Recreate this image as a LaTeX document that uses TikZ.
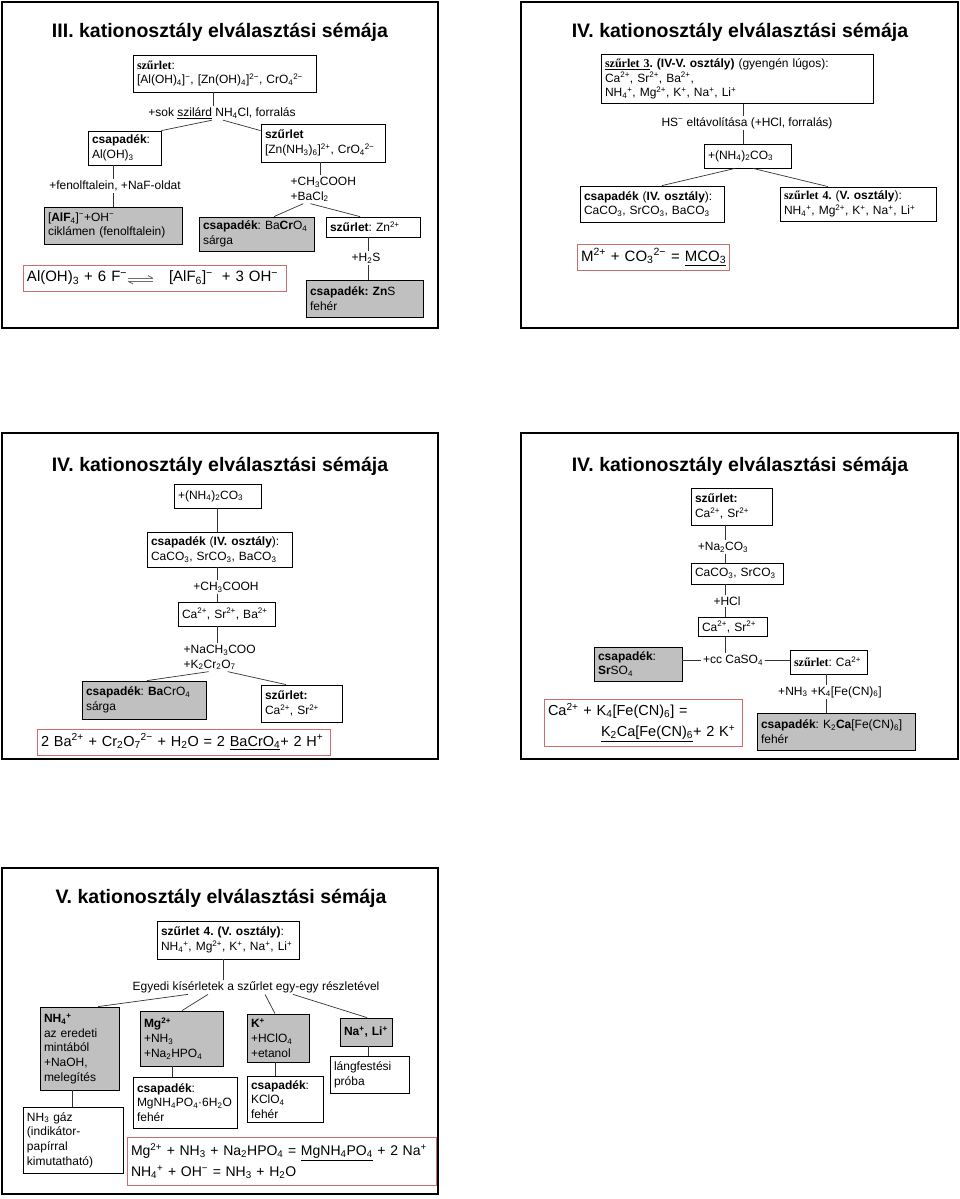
\documentclass[tikz,border=0pt]{standalone}
\usepackage{fontspec}
\setmainfont{Liberation Sans}
\newfontfamily\tms{Liberation Serif}
\hyphenpenalty=10000 \exhyphenpenalty=10000
\frenchspacing
\newcommand\lo[1]{\textsubscript{#1}}
\newcommand\hi[1]{\textsuperscript{#1}}
\newcommand\ml[1]{\mbox{#1}}
\definecolor{boxgray}{RGB}{192,192,192}
\definecolor{eqred}{RGB}{205,110,110}
\definecolor{arrgray}{RGB}{110,110,110}
\newcommand\fbody{\fontsize{12}{14.7}\selectfont}
\newcommand\feq{\fontsize{15}{21}\selectfont}
\newcommand\feqs{\fontsize{14.5}{21}\selectfont}
\newcommand\feqt{\fontsize{14}{21}\selectfont}
\newcommand\rn[7]{%
 \pgfmathsetmacro\rw{#4-#2}\pgfmathsetmacro\rh{#5-#3}\pgfmathsetmacro\rtw{#4-#2-8}%
 \node[#6,minimum width=\rw pt,minimum height=\rh pt,text width=\rtw pt] (#1) at ({(#2+#4)/2},{(#3+#5)/2}) {#7};}
\tikzset{
 bx/.style={draw, line width=0.8pt, inner sep=4pt, align=left, font=\fbody, fill=white},
 gbx/.style={bx, fill=boxgray},
 eqb/.style={draw=eqred, line width=0.8pt, inner sep=4pt, align=left},
 lab/.style={inner sep=1.5pt, font=\fbody, align=left},
 ttl/.style={font=\fontsize{19.5}{22}\selectfont\bfseries, anchor=base, inner sep=0pt},
 frm/.style={line width=1.6pt},
 cn/.style={line width=0.7pt, black!80}
}
\begin{document}
\begin{tikzpicture}[x=1pt,y=-1pt]
\useasboundingbox[fill=white] (0,0) rectangle (960,1199);
% frames
\draw[frm] (2,2) rectangle (438,328);
\draw[frm] (521,2) rectangle (958,328);
\draw[frm] (2,433) rectangle (438,759);
\draw[frm] (521,433) rectangle (958,759);
\draw[frm] (2,868) rectangle (438,1194);

% ---------------- Slide 1
\node[ttl] (t1) at (220,38) {III. kationosztály elválasztási sémája};
\rn{s1a}{133}{55}{316}{92}{bx}{{\tms\bfseries szűrlet}:\\\ml{[Al(OH)\lo4]\hi{−}, [Zn(OH)\lo4]\hi{2−}, CrO\lo4\hi{2−}}}
\node[lab] (l1) at (222,113) {+sok \underline{szilárd} NH\lo4Cl, forralás};
\rn{c1}{88}{131}{161}{165}{bx}{{\bfseries csapadék}:\\Al(OH)\lo3}
\rn{s1b}{261}{124}{385}{162}{bx}{{\bfseries szűrlet}\\{}[Zn(NH\lo3)\lo6]\hi{2+}, CrO\lo4\hi{2−}}
\node[lab] (l2) at (115,186) {+fenolftalein, +NaF-oldat};
\rn{g1}{44}{207}{182}{244}{gbx}{[{\bfseries AlF}\lo4]\hi{−}+OH\hi{−}\\ciklámen (fenolftalein)}
\node[lab, anchor=west] (l3) at (289,189.5) {+CH\lo3COOH\\+BaCl\lo2};
\rn{g2}{199}{217}{314}{251}{gbx}{{\bfseries csapadék}: Ba{\bfseries Cr}O\lo4\\sárga}
\rn{s1z}{326}{217}{420}{237}{bx}{{\bfseries szűrlet}: Zn\hi{2+}}
\node[lab] (l4) at (366,258) {+H\lo2S};
\rn{g3}{306}{280}{423}{317}{gbx}{{\bfseries csapadék: Zn}S\\fehér}
\rn{e1}{23}{265}{286}{291}{eqb,font=\feq}{\ml{Al(OH)\lo3 + 6 F\hi{−}\hspace{42pt}[AlF\lo6]\hi{−}\hspace{9pt}+ 3 OH\hi{−}}}
\draw[arrgray, line width=1.4pt] (128,278.3) -- (153,278.3);
\draw[arrgray, line width=0.9pt] (153,278.3) -- (148,275.6);
\draw[arrgray, line width=1.4pt] (153,281.2) -- (128,281.2);
\draw[arrgray, line width=0.9pt] (128,281.2) -- (133,283.9);

\draw[cn] ([xshift=-11.5pt]s1a.south) -- ([xshift=-11.5pt]s1a.south |- l1.north);
\draw[cn] ([xshift=-10pt]l1.south) -- (c1.north east);
\draw[cn] ([xshift=1pt]l1.south) -- ([yshift=-7pt]s1b.north west);
\draw[cn] ([xshift=-11.5pt]c1.south) -- ([xshift=-11.5pt]c1.south |- l2.north);
\draw[cn] ([xshift=-11.5pt]c1.south |- l2.south) -- ([xshift=-11.5pt]c1.south |- g1.north);
\draw[cn] ([xshift=-3pt]s1b.south) -- ([xshift=-3pt]s1b.south |- l3.north);
\draw[cn] ([xshift=-20pt]l3.south) -- ([xshift=17.5pt]g2.north);
\draw[cn] ([xshift=-13pt]l3.south) -- ([xshift=-13pt]s1z.north);
\draw[cn] ([xshift=-5pt]s1z.south) -- ([xshift=-5pt]s1z.south |- l4.north);
\draw[cn] ([xshift=-5pt]s1z.south |- l4.south) -- ([xshift=-5pt]s1z.south |- g3.north);

% ---------------- Slide 2
\node[ttl] (t2) at (740,38) {IV. kationosztály elválasztási sémája};
\rn{b2a}{601}{55}{873}{103}{bx}{\ml{\underline{\tms\bfseries szűrlet 3}{\bfseries . (IV-V. osztály)} (gyengén lúgos):}\\Ca\hi{2+}, Sr\hi{2+}, Ba\hi{2+},\\\ml{NH\lo4\hi{+}, Mg\hi{2+}, K\hi{+}, Na\hi{+}, Li\hi{+}}}
\node[lab] (l5) at (747,123) {HS\hi{−} eltávolítása (+HCl, forralás)};
\rn{b2b}{704}{144}{791}{168}{bx}{+(NH\lo4)\lo2CO\lo3}
\rn{b2c}{580}{186}{724}{222}{bx}{\ml{{\bfseries csapadék} ({\bfseries IV. osztály}):}\\CaCO\lo3, SrCO\lo3, BaCO\lo3}
\rn{b2d}{780}{188}{936}{220}{bx}{\ml{{\tms\bfseries szűrlet 4.} ({\bfseries V. osztály}):}\\\ml{NH\lo4\hi{+}, Mg\hi{2+}, K\hi{+}, Na\hi{+}, Li\hi{+}}}
\rn{e2}{577}{244}{729}{270}{eqb,font=\feq}{\ml{M\hi{2+} + CO\lo3\hi{2−} = \underline{MCO\lo3}}}

\draw[cn] ([xshift=6pt]b2a.south) -- ([xshift=6pt]b2a.south |- l5.north);
\draw[cn] ([xshift=6pt]b2a.south |- l5.south) -- ([xshift=6pt]b2a.south |- b2b.north);
\draw[cn] ([xshift=-12.5pt]b2b.south) -- ([xshift=10pt]b2c.north);
\draw[cn] ([xshift=5.5pt]b2b.south) -- ([xshift=-30pt]b2d.north);

% ---------------- Slide 3
\node[ttl] (t3) at (220,471) {IV. kationosztály elválasztási sémája};
\rn{b3a}{174}{484}{261}{508}{bx}{+(NH\lo4)\lo2CO\lo3}
\rn{b3b}{147}{532}{292}{567}{bx}{\ml{{\bfseries csapadék} ({\bfseries IV. osztály}):}\\CaCO\lo3, SrCO\lo3, BaCO\lo3}
\node[lab] (l6) at (226,587) {+CH\lo3COOH};
\rn{b3c}{178}{602}{275}{626}{bx}{Ca\hi{2+}, Sr\hi{2+}, Ba\hi{2+}}
\node[lab,anchor=west] (l7) at (182,657.5) {+NaCH\lo3COO\\+K\lo2Cr\lo2O\lo7};
\rn{g4}{82}{681}{206}{719}{gbx}{{\bfseries csapadék}: {\bfseries Ba}CrO\lo4\\sárga}
\rn{b3d}{261}{685}{342}{722}{bx}{{\bfseries szűrlet:}\\Ca\hi{2+}, Sr\hi{2+}}
\rn{e3}{37}{729}{330}{755}{eqb,font=\feqs}{\ml{2 Ba\hi{2+} + Cr\lo2O\lo7\hi{2−} + H\lo2O = 2 \underline{BaCrO\lo4}+ 2 H\hi{+}}}

\draw[cn] ([xshift=-0.5pt]b3a.south) -- ([xshift=-0.5pt]b3a.south |- b3b.north);
\draw[cn] ([xshift=-2.5pt]b3b.south) -- ([xshift=-2.5pt]b3b.south |- l6.north);
\draw[cn] ([xshift=-2.5pt]b3b.south |- l6.south) -- ([xshift=-2.5pt]b3b.south |- b3c.north);
\draw[cn] ([xshift=-9.5pt]b3c.south) -- ([xshift=-9.5pt]b3c.south |- l7.north);
\draw[cn] ([xshift=-11pt]l7.south) -- ([xshift=3pt]g4.north);
\draw[cn] ([xshift=8pt]l7.south) -- ([xshift=-15.5pt]b3d.north);

% ---------------- Slide 4
\node[ttl] (t4) at (740,471) {IV. kationosztály elválasztási sémája};
\rn{b4a}{691}{488}{772}{525}{bx}{{\bfseries szűrlet:}\\Ca\hi{2+}, Sr\hi{2+}}
\node[lab] (l8) at (723,547) {+Na\lo2CO\lo3};
\rn{b4b}{691}{563}{783}{584}{bx}{CaCO\lo3, SrCO\lo3}
\node[lab] (l9) at (727,601) {+HCl};
\rn{b4c}{698}{618}{767}{636}{bx}{Ca\hi{2+}, Sr\hi{2+}}
\node[lab] (l10) at (733,660) {+cc CaSO\lo4};
\rn{g5}{594}{647}{682}{681}{gbx}{{\bfseries csapadék}:\\{\bfseries Sr}SO\lo4}
\rn{b4d}{790}{650}{867}{674}{bx}{\ml{{\tms\bfseries szűrlet}: Ca\hi{2+}}}
\node[lab] (l11) at (830,692) {+NH\lo3 +K\lo4[Fe(CN)\lo6]};
\rn{g6}{757}{713}{915}{750}{gbx}{\ml{{\bfseries csapadék}: K\lo2{\bfseries Ca}[Fe(CN)\lo6]}\\fehér}
\rn{e4}{544}{699}{742}{746}{eqb,font=\feqs}{\ml{Ca\hi{2+} + K\lo4[Fe(CN)\lo6] =}\\\ml{\hspace*{53pt}\underline{K\lo2Ca[Fe(CN)\lo6}+ 2 K\hi{+}}}

\draw[cn] ([xshift=-6.5pt]b4a.south) -- ([xshift=-6.5pt]b4a.south |- l8.north);
\draw[cn] ([xshift=-6.5pt]b4a.south |- l8.south) -- ([xshift=-6.5pt]b4a.south |- b4b.north);
\draw[cn] ([xshift=-12pt]b4b.south) -- ([xshift=-12pt]b4b.south |- l9.north);
\draw[cn] ([xshift=-12pt]b4b.south |- l9.south) -- ([xshift=-12pt]b4b.south |- b4c.north);
\draw[cn] ([xshift=-7.5pt]b4c.south) -- ([xshift=-7.5pt]b4c.south |- l10.north);
\draw[cn] (g5.east |- l10.west) -- (l10.west);
\draw[cn] (l10.east) -- (b4d.west |- l10.east);
\draw[cn] ([xshift=-2.5pt]b4d.south) -- ([xshift=-2.5pt]b4d.south |- l11.north);
\draw[cn] ([xshift=-2.5pt]b4d.south |- l11.south) -- ([xshift=-2.5pt]b4d.south |- g6.north);

% ---------------- Slide 5
\node[ttl] (t5) at (221,903) {V. kationosztály elválasztási sémája};
\rn{b5a}{157}{921}{299}{959}{bx}{\ml{{\bfseries szűrlet 4. (V. osztály)}:}\\\ml{NH\lo4\hi{+}, Mg\hi{2+}, K\hi{+}, Na\hi{+}, Li\hi{+}}}
\node[lab] (l12) at (256,987) {Egyedi kísérletek a szűrlet egy-egy részletével};
\rn{g7}{40}{1007}{119}{1090}{gbx}{{\bfseries NH\lo4\hi{+}}\\az eredeti\\mintából\\+NaOH,\\melegítés}
\rn{b5b}{23}{1107}{123}{1173}{bx}{NH\lo3 gáz\\(indikátor-\\papírral\\kimutatható)}
\rn{g8}{140}{1011}{223}{1066}{gbx}{{\bfseries Mg\hi{2+}}\\+NH\lo3\\+Na\lo2HPO\lo4}
\rn{b5c}{133}{1077}{237}{1128}{bx}{{\bfseries csapadék}:\\\ml{MgNH\lo4PO\lo4·6H\lo2O}\\fehér}
\rn{g9}{247}{1014}{309}{1062}{gbx}{{\bfseries K\hi{+}}\\+HClO\lo4\\+etanol}
\rn{b5d}{247}{1077}{323}{1122}{bx}{{\bfseries csapadék}:\\KClO\lo4\\fehér}
\rn{g10}{340}{1018}{392}{1046}{gbx}{\ml{\bfseries Na\hi{+}, Li\hi{+}}}
\rn{b5e}{330}{1056}{409}{1093}{bx}{lángfestési\\próba}
\rn{e5}{127}{1137}{436}{1185}{eqb,font=\feqt}{\ml{Mg\hi{2+} + NH\lo3 + Na\lo2HPO\lo4 = \underline{MgNH\lo4PO\lo4} + 2 Na\hi{+}}\\\ml{NH\lo4\hi{+} + OH\hi{−} = NH\lo3 + H\lo2O}}

\draw[cn] ([xshift=-5pt]b5a.south) -- ([xshift=-5pt]b5a.south |- l12.north);
\draw[cn] ([xshift=-68pt]l12.south) -- ([xshift=18.5pt]g7.north);
\draw[cn] ([xshift=-48pt]l12.south) -- ([xshift=0.5pt]g8.north);
\draw[cn] ([xshift=9pt]l12.south) -- ([xshift=-3pt]g9.north);
\draw[cn] ([xshift=37pt]l12.south) -- ([xshift=1pt]g10.north);
\draw[cn] ([xshift=-7.5pt]g7.south) -- ([xshift=-7.5pt]g7.south |- b5b.north);
\draw[cn] ([xshift=-9.5pt]g8.south) -- ([xshift=-9.5pt]g8.south |- b5c.north);
\draw[cn] ([xshift=-3pt]g9.south) -- ([xshift=-3pt]g9.south |- b5d.north);
\draw[cn] ([xshift=2pt]g10.south) -- ([xshift=2pt]g10.south |- b5e.north);
\end{tikzpicture}
\end{document}
